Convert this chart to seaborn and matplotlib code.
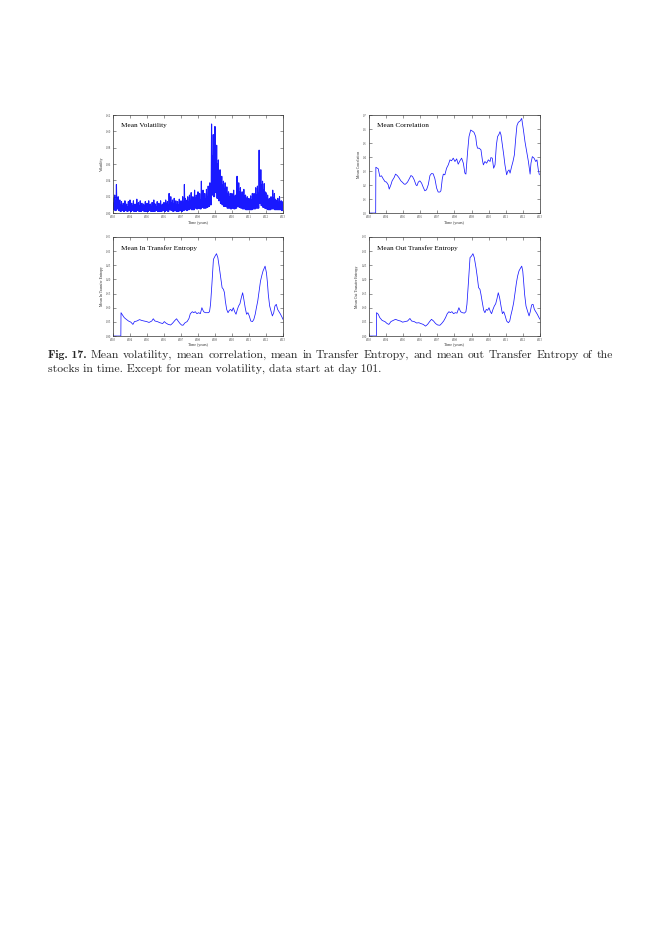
import numpy as np
import pandas as pd
import matplotlib
matplotlib.use("Agg")
import matplotlib.pyplot as plt
import seaborn as sns

# ---------------------------------------------------------------
# Values
# ---------------------------------------------------------------
# mean volatility: main spike tops, secondary spikes and troughs, every 0.1 year
vol_years = np.round(np.arange(2003.0, 2013.01, 0.1), 2)
vol_high = [0.018, 0.022, 0.035, 0.020, 0.016, 0.014, 0.012, 0.015, 0.011, 0.014,
            0.016, 0.012, 0.015, 0.011, 0.017, 0.013, 0.015, 0.012, 0.011, 0.014,
            0.012, 0.015, 0.011, 0.013, 0.016, 0.011, 0.014, 0.012, 0.015, 0.011,
            0.013, 0.016, 0.014, 0.024, 0.020, 0.016, 0.018, 0.015, 0.014, 0.017,
            0.015, 0.020, 0.035, 0.016, 0.020, 0.022, 0.025, 0.020, 0.028, 0.022,
            0.026, 0.024, 0.039, 0.028, 0.024, 0.029, 0.033, 0.037, 0.109, 0.096,
            0.106, 0.083, 0.065, 0.053, 0.045, 0.039, 0.037, 0.032, 0.026, 0.024,
            0.024, 0.028, 0.022, 0.045, 0.037, 0.031, 0.026, 0.029, 0.022, 0.020,
            0.018, 0.021, 0.024, 0.024, 0.031, 0.033, 0.077, 0.053, 0.039, 0.036,
            0.025, 0.022, 0.018, 0.020, 0.028, 0.024, 0.016, 0.018, 0.020, 0.015,
            0.014]
vol_mid = [0.012, 0.015, 0.018, 0.011, 0.010, 0.009, 0.010, 0.009, 0.008, 0.010,
           0.011, 0.009, 0.010, 0.008, 0.011, 0.009, 0.010, 0.008, 0.009, 0.010,
           0.009, 0.010, 0.008, 0.010, 0.011, 0.008, 0.009, 0.010, 0.009, 0.008,
           0.010, 0.011, 0.010, 0.015, 0.013, 0.011, 0.012, 0.010, 0.010, 0.012,
           0.011, 0.013, 0.018, 0.012, 0.014, 0.015, 0.016, 0.014, 0.018, 0.016,
           0.017, 0.016, 0.022, 0.019, 0.017, 0.020, 0.022, 0.025, 0.070, 0.075,
           0.065, 0.060, 0.048, 0.040, 0.034, 0.030, 0.028, 0.024, 0.020, 0.018,
           0.018, 0.020, 0.017, 0.028, 0.026, 0.022, 0.019, 0.021, 0.017, 0.015,
           0.014, 0.016, 0.017, 0.018, 0.022, 0.024, 0.040, 0.035, 0.028, 0.026,
           0.019, 0.016, 0.014, 0.015, 0.019, 0.017, 0.012, 0.013, 0.014, 0.012,
           0.011]
vol_low = [0.004, 0.003, 0.005, 0.003, 0.002, 0.003, 0.002, 0.003, 0.002, 0.003,
           0.002, 0.003, 0.002, 0.002, 0.003, 0.002, 0.002, 0.003, 0.002, 0.002,
           0.002, 0.003, 0.002, 0.002, 0.002, 0.003, 0.002, 0.002, 0.002, 0.003,
           0.002, 0.003, 0.002, 0.004, 0.003, 0.002, 0.003, 0.002, 0.002, 0.003,
           0.002, 0.003, 0.004, 0.003, 0.004, 0.005, 0.004, 0.004, 0.006, 0.005,
           0.006, 0.005, 0.007, 0.006, 0.006, 0.007, 0.008, 0.010, 0.022, 0.020,
           0.025, 0.018, 0.015, 0.012, 0.010, 0.008, 0.008, 0.006, 0.006, 0.005,
           0.006, 0.005, 0.006, 0.008, 0.007, 0.006, 0.005, 0.005, 0.004, 0.004,
           0.004, 0.004, 0.005, 0.005, 0.006, 0.006, 0.012, 0.009, 0.007, 0.006,
           0.005, 0.004, 0.004, 0.005, 0.005, 0.004, 0.004, 0.004, 0.004, 0.003,
           0.003]

# mean correlation (zero before day 101)
corr_years = [2003.00, 2003.40,
              2003.41, 2003.55, 2003.64, 2003.74, 2003.84, 2003.94, 2004.03, 2004.13,
              2004.19, 2004.29, 2004.36, 2004.48, 2004.56, 2004.66, 2004.75, 2004.87,
              2004.95, 2005.07, 2005.14, 2005.26, 2005.36, 2005.46, 2005.55, 2005.65,
              2005.75, 2005.81, 2005.89, 2005.98, 2006.08, 2006.18, 2006.27, 2006.37,
              2006.47, 2006.57, 2006.66, 2006.76, 2006.86, 2006.96, 2007.05, 2007.15,
              2007.21, 2007.29, 2007.35, 2007.44, 2007.54, 2007.64, 2007.74, 2007.83,
              2007.93, 2008.03, 2008.13, 2008.22, 2008.32, 2008.42, 2008.52, 2008.61,
              2008.67, 2008.77, 2008.85, 2008.95, 2009.04, 2009.14, 2009.24, 2009.30,
              2009.35, 2009.45, 2009.55, 2009.63, 2009.69, 2009.78, 2009.88, 2009.98,
              2010.08, 2010.13, 2010.21, 2010.29, 2010.37, 2010.45, 2010.52, 2010.60,
              2010.66, 2010.72, 2010.80, 2010.88, 2010.95, 2011.05, 2011.11, 2011.19,
              2011.25, 2011.34, 2011.42, 2011.50, 2011.58, 2011.65, 2011.73, 2011.83,
              2011.93, 2011.97, 2012.03, 2012.12, 2012.22, 2012.32, 2012.42, 2012.47,
              2012.55, 2012.65, 2012.75, 2012.82, 2012.90, 2012.96]
corr_values = [0.0, 0.0,
               0.327, 0.316, 0.261, 0.266, 0.244, 0.225, 0.221, 0.202,
               0.171, 0.202, 0.230, 0.254, 0.278, 0.268, 0.254, 0.230,
               0.221, 0.206, 0.206, 0.221, 0.244, 0.268, 0.261, 0.237,
               0.202, 0.195, 0.221, 0.230, 0.214, 0.183, 0.159, 0.166,
               0.202, 0.268, 0.282, 0.280, 0.244, 0.178, 0.150, 0.150,
               0.159, 0.244, 0.278, 0.273, 0.320, 0.344, 0.380, 0.373,
               0.392, 0.368, 0.387, 0.349, 0.373, 0.392, 0.356, 0.285,
               0.278, 0.439, 0.546, 0.593, 0.586, 0.577, 0.546, 0.486,
               0.463, 0.463, 0.451, 0.380, 0.344, 0.368, 0.356, 0.380,
               0.368, 0.396, 0.392, 0.320, 0.344, 0.486, 0.546, 0.562,
               0.581, 0.558, 0.486, 0.415, 0.344, 0.273, 0.297, 0.308,
               0.285, 0.332, 0.368, 0.415, 0.534, 0.624, 0.648, 0.657,
               0.676, 0.641, 0.593, 0.510, 0.439, 0.368, 0.278, 0.356,
               0.403, 0.392, 0.368, 0.380, 0.308, 0.273]

# mean in transfer entropy (zero before day 101)
te_in_years = [2003.00, 2003.46,
               2003.47, 2003.56, 2003.66, 2003.78, 2003.91, 2004.05, 2004.17, 2004.26,
               2004.40, 2004.56, 2004.69, 2004.83, 2004.98, 2005.12, 2005.28, 2005.37,
               2005.47, 2005.61, 2005.76, 2005.92, 2006.02, 2006.11, 2006.25, 2006.39,
               2006.50, 2006.64, 2006.74, 2006.83, 2006.93, 2007.03, 2007.12, 2007.24,
               2007.36, 2007.47, 2007.55, 2007.67, 2007.75, 2007.84, 2007.94, 2008.04,
               2008.14, 2008.23, 2008.33, 2008.43, 2008.53, 2008.62, 2008.68, 2008.74,
               2008.82, 2008.91, 2009.01, 2009.09, 2009.17, 2009.26, 2009.34, 2009.42,
               2009.50, 2009.56, 2009.61, 2009.69, 2009.77, 2009.85, 2009.93, 2010.00,
               2010.08, 2010.16, 2010.24, 2010.32, 2010.39, 2010.47, 2010.55, 2010.63,
               2010.70, 2010.78, 2010.86, 2010.94, 2011.02, 2011.11, 2011.21, 2011.29,
               2011.37, 2011.44, 2011.52, 2011.60, 2011.68, 2011.75, 2011.83, 2011.91,
               2011.95, 2012.03, 2012.09, 2012.14, 2012.22, 2012.30, 2012.38, 2012.46,
               2012.53, 2012.61, 2012.69, 2012.77, 2012.86, 2012.96, 2013.00]
te_in_values = [0.0, 0.0,
                0.0825, 0.074, 0.065, 0.059, 0.053, 0.049, 0.041, 0.051,
                0.053, 0.058, 0.055, 0.053, 0.051, 0.048, 0.053, 0.061,
                0.053, 0.051, 0.047, 0.044, 0.051, 0.046, 0.041, 0.039,
                0.045, 0.055, 0.061, 0.053, 0.045, 0.039, 0.038, 0.047,
                0.051, 0.062, 0.079, 0.086, 0.0825, 0.086, 0.079, 0.0825,
                0.079, 0.100, 0.086, 0.0825, 0.0825, 0.0825, 0.086, 0.112,
                0.183, 0.271, 0.283, 0.291, 0.277, 0.241, 0.206, 0.171,
                0.165, 0.153, 0.124, 0.094, 0.0825, 0.091, 0.094, 0.088,
                0.100, 0.086, 0.077, 0.094, 0.106, 0.114, 0.135, 0.153,
                0.130, 0.100, 0.077, 0.0825, 0.071, 0.053, 0.051, 0.059,
                0.077, 0.100, 0.124, 0.159, 0.194, 0.212, 0.230, 0.241,
                0.247, 0.224, 0.188, 0.147, 0.106, 0.088, 0.071, 0.0825,
                0.106, 0.112, 0.094, 0.086, 0.077, 0.065, 0.059]

# mean out transfer entropy (zero before day 101)
te_out_years = [2003.00, 2003.44,
                2003.45, 2003.55, 2003.64, 2003.78, 2003.94, 2004.07, 2004.17, 2004.29,
                2004.42, 2004.56, 2004.72, 2004.85, 2004.97, 2005.11, 2005.26, 2005.40,
                2005.50, 2005.65, 2005.79, 2005.92, 2006.04, 2006.18, 2006.31, 2006.43,
                2006.55, 2006.66, 2006.78, 2006.90, 2007.02, 2007.15, 2007.25, 2007.37,
                2007.48, 2007.58, 2007.68, 2007.76, 2007.85, 2007.95, 2008.05, 2008.15,
                2008.26, 2008.36, 2008.46, 2008.58, 2008.67, 2008.73, 2008.81, 2008.91,
                2009.00, 2009.08, 2009.16, 2009.26, 2009.34, 2009.41, 2009.49, 2009.55,
                2009.63, 2009.71, 2009.78, 2009.86, 2009.94, 2010.02, 2010.10, 2010.17,
                2010.25, 2010.33, 2010.41, 2010.49, 2010.56, 2010.64, 2010.72, 2010.80,
                2010.88, 2010.95, 2011.05, 2011.15, 2011.23, 2011.30, 2011.38, 2011.46,
                2011.54, 2011.62, 2011.69, 2011.77, 2011.85, 2011.93, 2011.99, 2012.04,
                2012.10, 2012.18, 2012.28, 2012.36, 2012.43, 2012.51, 2012.59, 2012.67,
                2012.75, 2012.84, 2012.94, 2013.00]
te_out_values = [0.0, 0.0,
                 0.0825, 0.077, 0.065, 0.055, 0.051, 0.044, 0.041, 0.051,
                 0.055, 0.059, 0.055, 0.053, 0.049, 0.051, 0.053, 0.062,
                 0.053, 0.051, 0.046, 0.047, 0.044, 0.041, 0.035, 0.041,
                 0.051, 0.059, 0.053, 0.044, 0.039, 0.038, 0.044, 0.053,
                 0.065, 0.079, 0.086, 0.0825, 0.086, 0.079, 0.0825, 0.081,
                 0.100, 0.086, 0.0825, 0.081, 0.086, 0.112, 0.183, 0.277,
                 0.283, 0.291, 0.277, 0.241, 0.206, 0.171, 0.165, 0.147,
                 0.118, 0.091, 0.0825, 0.094, 0.091, 0.100, 0.086, 0.079,
                 0.094, 0.106, 0.114, 0.133, 0.153, 0.135, 0.106, 0.079,
                 0.086, 0.074, 0.053, 0.047, 0.053, 0.074, 0.094, 0.118,
                 0.153, 0.188, 0.212, 0.230, 0.239, 0.247, 0.230, 0.194,
                 0.147, 0.106, 0.086, 0.071, 0.086, 0.110, 0.112, 0.094,
                 0.086, 0.077, 0.065, 0.059]

year_ticks = list(range(2003, 2014))
vol_ticks = [0, 0.02, 0.04, 0.06, 0.08, 0.1, 0.12]
corr_ticks = [0, 0.1, 0.2, 0.3, 0.4, 0.5, 0.6, 0.7]
te_ticks = [0, 0.05, 0.1, 0.15, 0.2, 0.25, 0.3, 0.35]

caption_head = "Fig. 17."
caption_line1 = ("Mean volatility, mean correlation, mean in Transfer Entropy, "
                 "and mean out Transfer Entropy of the")
caption_line2 = "stocks in time. Except for mean volatility, data start at day 101."

LINE_COLOR = "#1a1aff"


def style_axes(ax, title, ylabel, yticks):
    ax.set_xlim(year_ticks[0], year_ticks[-1])
    ax.set_ylim(yticks[0], yticks[-1])
    ax.set_xticks(year_ticks)
    ax.set_yticks(yticks)
    ax.tick_params(direction="in", length=2, width=0.4, labelsize=2.2, pad=1.5,
                   top=True, right=True, bottom=True, left=True, colors="#444444")
    ax.set_xlabel("Time (years)", fontsize=2.8, labelpad=1)
    ax.set_ylabel(ylabel, fontsize=2.8, labelpad=1.5)
    ax.text(0.045, 0.89, title, transform=ax.transAxes, fontsize=5.2,
            va="center", ha="left", color="black")
    for s in ax.spines.values():
        s.set_linewidth(0.5)
        s.set_color("#333333")
    ax.grid(False)


def main():
    sns.set_theme(style="white")
    plt.rcParams["font.family"] = ["Liberation Serif", "DejaVu Serif"]

    fig = plt.figure(figsize=(6.61, 9.36), dpi=100)
    fig.patch.set_facecolor("white")

    # axes placed as on the page
    ax_vol = fig.add_axes([0.171, 0.7724, 0.257, 0.1047])
    ax_corr = fig.add_axes([0.558, 0.7724, 0.259, 0.1047])
    ax_tin = fig.add_axes([0.171, 0.641, 0.257, 0.1058])
    ax_tout = fig.add_axes([0.558, 0.641, 0.259, 0.1058])

    # volatility: spike top, trough, secondary spike, trough
    vol_x = np.column_stack([vol_years, vol_years + 0.025,
                             vol_years + 0.05, vol_years + 0.075]).ravel()
    vol_y = np.column_stack([vol_high, vol_low, vol_mid, vol_low]).ravel()
    vol_df = pd.DataFrame({"year": vol_x, "value": vol_y})
    sns.lineplot(data=vol_df, x="year", y="value", ax=ax_vol, color="#0000ff",
                 linewidth=0.8, alpha=0.9, estimator=None, sort=False)
    style_axes(ax_vol, "Mean Volatility", "Volatility", vol_ticks)

    corr_df = pd.DataFrame({"year": corr_years, "value": corr_values})
    sns.lineplot(data=corr_df, x="year", y="value", ax=ax_corr, color=LINE_COLOR,
                 linewidth=0.55, estimator=None, sort=False)
    style_axes(ax_corr, "Mean Correlation", "Mean Correlation", corr_ticks)

    tin_df = pd.DataFrame({"year": te_in_years, "value": te_in_values})
    sns.lineplot(data=tin_df, x="year", y="value", ax=ax_tin, color=LINE_COLOR,
                 linewidth=0.55, estimator=None, sort=False)
    style_axes(ax_tin, "Mean In Transfer Entropy", "Mean In Transfer Entropy", te_ticks)

    tout_df = pd.DataFrame({"year": te_out_years, "value": te_out_values})
    sns.lineplot(data=tout_df, x="year", y="value", ax=ax_tout, color=LINE_COLOR,
                 linewidth=0.55, estimator=None, sort=False)
    style_axes(ax_tout, "Mean Out Transfer Entropy", "Mean Out Transfer Entropy", te_ticks)

    # caption in Computer Modern, first line justified between the page margins
    cap_size = 8.45
    cap_left, cap_right = 48.0, 613.0
    base1, base2 = 0.6175, 0.6026
    W = fig.bbox.width
    renderer = fig.canvas.get_renderer()

    pieces = [(caption_head, "cmb10")] + [(w, "cmr10") for w in caption_line1.split()]
    texts = []
    for word, fam in pieces:
        t = fig.text(0, base1, word, fontsize=cap_size, family=[fam, "DejaVu Serif"],
                     ha="left", va="baseline")
        texts.append(t)
    widths = [t.get_window_extent(renderer=renderer).width for t in texts]
    gap = (cap_right - cap_left - sum(widths)) / (len(texts) - 1)
    x = cap_left
    for t, w in zip(texts, widths):
        t.set_x(x / W)
        x += w + gap

    fig.text(cap_left / W, base2, caption_line2, fontsize=cap_size,
             family=["cmr10", "DejaVu Serif"], ha="left", va="baseline")

    fig.savefig("out.png", dpi=100, facecolor="white")
    plt.close(fig)


if __name__ == "__main__":
    main()
